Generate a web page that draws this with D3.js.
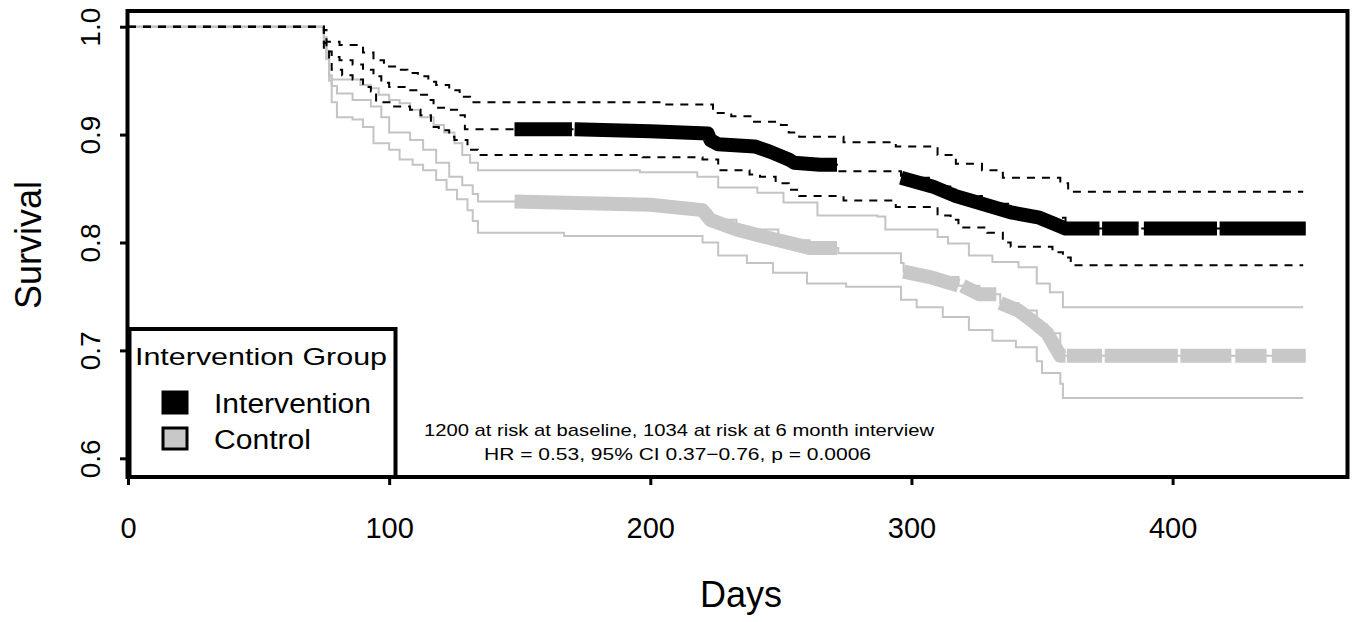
<!DOCTYPE html>
<html>
<head>
<meta charset="utf-8">
<script src="https://cdn.jsdelivr.net/npm/d3@7"></script>
<style>
  body { margin: 0; background: #fff; }
  svg { display: block; font-family: "Liberation Sans", Arial, sans-serif; }
</style>
</head>
<body>
<div id="chart"></div>
<script>
// Kaplan-Meier steps, [day, survival]
const interventionEst = [[0,1],[75,0.985],[76,0.977],[78,0.972],[81,0.969],[86,0.965],[90,0.96],[94,0.954],[97,0.948],[100,0.944],[107,0.941],[111,0.937],[115,0.932],[117,0.925],[122,0.923],[126,0.918],[129,0.905],[200,0.903],[222,0.901],[223,0.895],[226,0.891],[240,0.889],[246,0.884],[249,0.881],[253,0.877],[255,0.874],[265,0.872],[272,0.866],[296,0.86],[308,0.852],[317,0.843],[327,0.836],[338,0.828],[349,0.823],[359,0.813],[450,0.813]];
const interventionUpper = [[0,1],[75,0.997],[76,0.986],[81,0.983],[90,0.976],[94,0.969],[98,0.963],[103,0.96],[107,0.957],[111,0.954],[115,0.949],[118,0.946],[123,0.941],[127,0.935],[131,0.93],[204,0.928],[224,0.92],[231,0.917],[239,0.912],[250,0.909],[253,0.902],[257,0.898],[274,0.893],[294,0.889],[310,0.881],[317,0.873],[327,0.867],[335,0.86],[357,0.855],[360,0.847],[450,0.847]];
const interventionLower = [[0,1],[75,0.979],[77,0.967],[78,0.96],[82,0.955],[86,0.951],[90,0.944],[93,0.94],[95,0.93],[101,0.926],[108,0.923],[112,0.918],[116,0.907],[119,0.904],[123,0.898],[125,0.895],[130,0.886],[134,0.881],[197,0.879],[220,0.877],[226,0.867],[238,0.863],[242,0.861],[248,0.855],[253,0.849],[257,0.843],[274,0.839],[294,0.833],[310,0.825],[315,0.821],[318,0.814],[329,0.809],[335,0.8],[338,0.796],[354,0.791],[358,0.786],[361,0.779],[450,0.779]];

const controlEst = [[0,1],[75,0.985],[76,0.97],[77,0.955],[78,0.945],[80,0.938],[86,0.932],[93,0.926],[97,0.916],[100,0.902],[108,0.895],[113,0.886],[118,0.874],[123,0.861],[128,0.853],[132,0.845],[134,0.838],[200,0.835],[220,0.83],[223,0.821],[233,0.812],[249,0.802],[261,0.795],[272,0.79],[296,0.781],[297,0.773],[307,0.768],[318,0.76],[326,0.752],[334,0.744],[341,0.737],[348,0.724],[352,0.716],[357,0.695],[450,0.695]];
const controlUpper = [[0,1],[75,0.99],[76,0.97],[77,0.954],[78,0.951],[89,0.946],[93,0.943],[96,0.937],[100,0.932],[104,0.929],[108,0.923],[112,0.916],[117,0.909],[121,0.902],[125,0.892],[128,0.881],[131,0.874],[134,0.867],[196,0.865],[218,0.861],[226,0.851],[241,0.846],[251,0.837],[264,0.825],[287,0.824],[290,0.812],[310,0.805],[314,0.799],[322,0.788],[331,0.782],[341,0.777],[348,0.762],[353,0.754],[358,0.74],[450,0.74]];
const controlLower = [[0,1],[75,0.99],[76,0.97],[77,0.95],[78,0.93],[80,0.916],[86,0.914],[90,0.907],[94,0.892],[100,0.886],[104,0.877],[109,0.872],[113,0.867],[118,0.858],[122,0.849],[126,0.84],[130,0.83],[132,0.82],[134,0.809],[167,0.806],[220,0.8],[226,0.788],[237,0.781],[247,0.772],[260,0.762],[275,0.759],[296,0.747],[302,0.74],[312,0.731],[322,0.719],[331,0.709],[340,0.703],[348,0.69],[350,0.679],[357,0.669],[358,0.656],[450,0.656]];

// day ranges covered by the dense censoring marks
const interventionCensored = [[148,170],[171,271.5],[296,372],[373,387],[389,417],[418,451]];
const controlCensored = [[148,271.5],[297,318],[319.5,332.5],[334,359],[359.5,373],[374,402],[403,422.5],[424,436],[438,451]];

const xTicks = [0, 100, 200, 300, 400];
const yTicks = [0.6, 0.7, 0.8, 0.9, 1.0];
const legendTitle = "Intervention Group";
const legendLabels = ["Intervention", "Control"];
const noteLines = ["1200 at risk at baseline, 1034 at risk at 6 month interview",
                   "HR = 0.53, 95% CI 0.37\u22120.76, p = 0.0006"];

const W = 1360, H = 622;
const svg = d3.select("#chart").append("svg")
  .attr("width", W)
  .attr("height", H);

const x = d3.scaleLinear().domain([0, 400]).range([128, 1172.6]);
const y = d3.scaleLinear().domain([0.6, 1.0]).range([458.3, 26.7]);

const line = d3.line()
  .x(d => x(d[0]))
  .y(d => y(d[1]))
  .curve(d3.curveStepAfter);

// censor marks are packed so tightly they read as a sloped band
const bandLine = d3.line()
  .x(d => x(d[0]))
  .y(d => y(d[1]))
  .curve(d3.curveLinear);

// value of a step series at a given day
const stepAt = (series, day) => {
  let v = series[0][1];
  series.forEach(p => { if (p[0] <= day) v = p[1]; });
  return v;
};

const segment = (series, [a, b]) => {
  const pts = [[a, stepAt(series, a)]];
  series.forEach(p => { if (p[0] > a && p[0] < b) pts.push(p); });
  pts.push([b, stepAt(series, b)]);
  return pts;
};

const GREY = "#c4c4c4";
const BAND_GREY = "#c8c8c8";

// control group: solid grey
[controlUpper, controlEst, controlLower].forEach(s => {
  svg.append("path")
    .attr("d", line(s))
    .attr("fill", "none")
    .attr("stroke", GREY)
    .attr("stroke-width", 2);
});

controlCensored.forEach(r => {
  svg.append("path")
    .attr("d", bandLine(segment(controlEst, r)))
    .attr("fill", "none")
    .attr("stroke", BAND_GREY)
    .attr("stroke-width", 14)
    .attr("stroke-linejoin", "round");
});

// intervention group: dashed black
[interventionUpper, interventionEst, interventionLower].forEach(s => {
  svg.append("path")
    .attr("d", line(s))
    .attr("fill", "none")
    .attr("stroke", "#000")
    .attr("stroke-width", 2)
    .attr("stroke-dasharray", "8,7");
});

interventionCensored.forEach(r => {
  svg.append("path")
    .attr("d", bandLine(segment(interventionEst, r)))
    .attr("fill", "none")
    .attr("stroke", "#000")
    .attr("stroke-width", 14)
    .attr("stroke-linejoin", "round");
});

// frame
svg.append("rect")
  .attr("x", 127.5).attr("y", 11)
  .attr("width", 1220).attr("height", 466)
  .attr("fill", "none")
  .attr("stroke", "#000")
  .attr("stroke-width", 4);

// axes
const xAxis = svg.append("g")
  .attr("transform", "translate(0,477)")
  .call(d3.axisBottom(x).tickValues(xTicks).tickSize(8).tickFormat(d3.format("d")));
xAxis.select(".domain").remove();
xAxis.selectAll("line").attr("stroke-width", 3);
xAxis.selectAll("text")
  .attr("y", 61).attr("dy", 0)
  .attr("font-size", 29)
  .attr("fill", "#000");

const yAxis = svg.append("g")
  .attr("transform", "translate(127,0)")
  .call(d3.axisLeft(y).tickValues(yTicks).tickSize(7).tickFormat(d3.format(".1f")));
yAxis.select(".domain").remove();
yAxis.selectAll("line").attr("stroke-width", 3);
yAxis.selectAll("text")
  .attr("x", 0).attr("dy", 0)
  .attr("text-anchor", "middle")
  .attr("transform", "translate(-27,0) rotate(-90)")
  .attr("font-size", 28)
  .attr("fill", "#000");

svg.append("text")
  .attr("transform", "translate(41,245) rotate(-90)")
  .attr("text-anchor", "middle")
  .attr("font-size", 36)
  .text("Survival");

svg.append("text")
  .attr("x", 741).attr("y", 607)
  .attr("text-anchor", "middle")
  .attr("font-size", 36)
  .text("Days");

// legend
const legend = svg.append("g");
legend.append("rect")
  .attr("x", 129.5).attr("y", 329)
  .attr("width", 266).attr("height", 148)
  .attr("fill", "#fff")
  .attr("stroke", "#000")
  .attr("stroke-width", 4);
legend.append("text")
  .attr("x", 135).attr("y", 365)
  .attr("font-size", 24)
  .attr("textLength", 252).attr("lengthAdjust", "spacingAndGlyphs")
  .text(legendTitle);

const swatches = [{fill: "#000", y: 392}, {fill: BAND_GREY, y: 428}];
legendLabels.forEach((lab, i) => {
  legend.append("rect")
    .attr("x", 163).attr("y", swatches[i].y)
    .attr("width", 24).attr("height", 21)
    .attr("fill", swatches[i].fill)
    .attr("stroke", "#000")
    .attr("stroke-width", 3);
  legend.append("text")
    .attr("x", 214).attr("y", 413 + i * 36)
    .attr("font-size", 27)
    .attr("textLength", i === 0 ? 157 : 97).attr("lengthAdjust", "spacingAndGlyphs")
    .text(lab);
});

// annotation
svg.selectAll("text.note")
  .data(noteLines)
  .join("text")
  .attr("class", "note")
  .attr("x", (d, i) => i === 0 ? 424 : 484)
  .attr("y", (d, i) => 436 + i * 24)
  .attr("font-size", 17)
  .attr("textLength", (d, i) => i === 0 ? 510 : 387)
  .attr("lengthAdjust", "spacingAndGlyphs")
  .text(d => d);
</script>
</body>
</html>
